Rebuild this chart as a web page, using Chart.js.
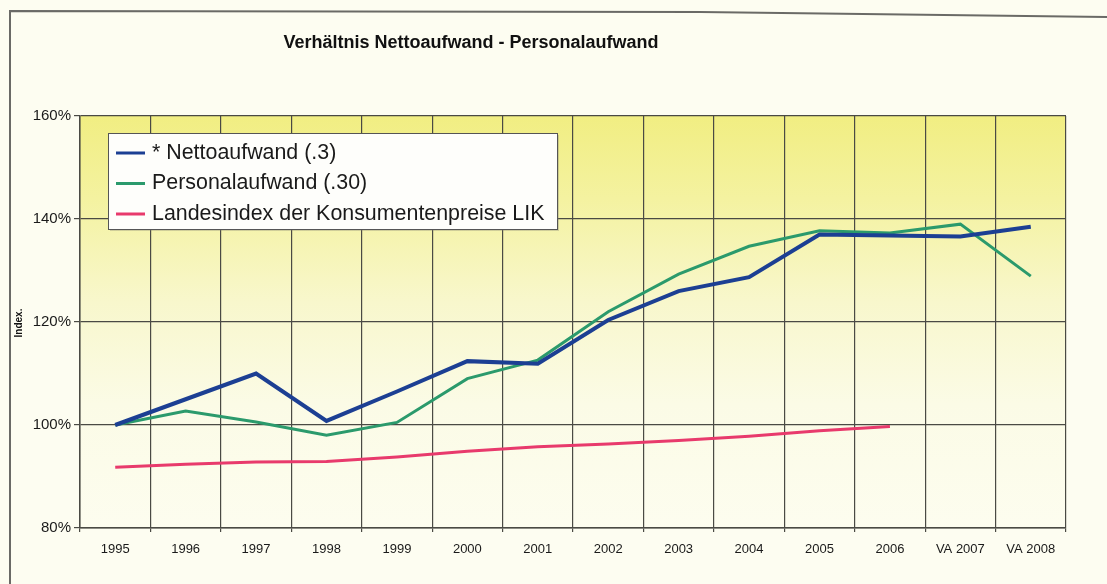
<!DOCTYPE html>
<html>
<head>
<meta charset="utf-8">
<script src="https://cdn.jsdelivr.net/npm/chart.js@4"></script>
<style>
  html,body{margin:0;padding:0;background:#fdfdf1;}
  #wrap{width:1107px;height:584px;position:relative;}
</style>
</head>
<body>
<div id="wrap"><canvas id="c" width="1107" height="584"></canvas></div>
<script>
const categories = ['1995','1996','1997','1998','1999','2000','2001','2002','2003','2004','2005','2006','VA 2007','VA 2008'];
const nettoaufwand = [100, 105, 110, 100.8, 106.5, 112.4, 111.9, 120.4, 126, 128.7, 137, 136.8, 136.6, 138.5];
const personalaufwand = [100, 102.7, 100.6, 98, 100.5, 109, 112.6, 122, 129.3, 134.7, 137.7, 137.3, 139, 128.9];
const lik = [91.8, 92.4, 92.8, 92.9, 93.8, 94.9, 95.8, 96.3, 97, 97.8, 98.9, 99.7, null, null];
const yTicks = [80, 100, 120, 140, 160];
const seriesLabels = ['* Nettoaufwand (.3)', 'Personalaufwand (.30)', 'Landesindex der Konsumentenpreise LIK'];
const seriesColors = ['#1c3f93', '#2b9a6c', '#e83a6c'];
const chartTitle = 'Verhältnis Nettoaufwand - Personalaufwand';
const yAxisTitle = 'Index.';

const FONT = '"Liberation Sans", Arial, sans-serif';

const decor = {
  id: 'decor',
  beforeDraw(chart) {
    const ctx = chart.ctx, a = chart.chartArea;
    ctx.save();
    ctx.fillStyle = '#fdfdf1';
    ctx.fillRect(0, 0, chart.width, chart.height);
    // frame
    ctx.strokeStyle = '#6a6a66';
    ctx.lineWidth = 2;
    ctx.beginPath();
    ctx.moveTo(10, 584);
    ctx.lineTo(10, 11);
    ctx.lineTo(700, 12);
    ctx.lineTo(1107, 17);
    ctx.stroke();
    // plot background gradient
    const g = ctx.createLinearGradient(0, a.top, 0, a.bottom);
    g.addColorStop(0, '#f1ee82');
    g.addColorStop(0.2, '#f4f2a0');
    g.addColorStop(0.45, '#f8f7cc');
    g.addColorStop(0.7, '#fbfbe6');
    g.addColorStop(1, '#fdfdef');
    ctx.fillStyle = g;
    ctx.fillRect(a.left, a.top, a.right - a.left, a.bottom - a.top);
    ctx.restore();
  },
  afterDraw(chart) {
    const ctx = chart.ctx;
    ctx.save();
    // title
    ctx.fillStyle = '#111';
    ctx.font = 'bold 18px ' + FONT;
    ctx.textAlign = 'center';
    ctx.textBaseline = 'middle';
    ctx.fillText(chartTitle, 471, 43);
    // y axis title
    ctx.save();
    ctx.translate(19, 323);
    ctx.rotate(-Math.PI / 2);
    ctx.font = 'bold 10px ' + FONT;
    ctx.fillText(yAxisTitle, 0, 0);
    ctx.restore();
    // legend
    const lx = 108, ly = 133, lw = 449, lh = 96;
    ctx.fillStyle = 'rgba(120,120,110,0.3)';
    ctx.fillRect(lx + 2, ly + 2, lw, lh);
    ctx.fillStyle = '#fefefb';
    ctx.fillRect(lx, ly, lw, lh);
    ctx.strokeStyle = '#555';
    ctx.lineWidth = 1;
    ctx.strokeRect(lx + 0.5, ly + 0.5, lw, lh);
    ctx.font = '21.4px ' + FONT;
    ctx.textAlign = 'left';
    ctx.textBaseline = 'middle';
    chart.data.datasets.forEach((ds, i) => {
      const y = ly + 20 + i * 30.5;
      ctx.strokeStyle = ds.borderColor;
      ctx.lineWidth = 3;
      ctx.beginPath();
      ctx.moveTo(116, y);
      ctx.lineTo(145, y);
      ctx.stroke();
      ctx.fillStyle = '#1a1a1a';
      ctx.fillText(ds.label, 152, y);
    });
    ctx.restore();
  }
};

new Chart(document.getElementById('c'), {
  type: 'line',
  data: {
    labels: categories,
    datasets: [
      { label: seriesLabels[0], data: nettoaufwand, borderColor: seriesColors[0], borderWidth: 4 },
      { label: seriesLabels[1], data: personalaufwand, borderColor: seriesColors[1], borderWidth: 3 },
      { label: seriesLabels[2], data: lik, borderColor: seriesColors[2], borderWidth: 3 }
    ].map(d => Object.assign(d, { pointRadius: 0, tension: 0, fill: false, spanGaps: false }))
  },
  options: {
    responsive: false,
    animation: false,
    devicePixelRatio: 1,
    layout: { padding: { left: 0, top: 116, right: 41, bottom: 16 } },
    plugins: { legend: { display: false }, title: { display: false }, tooltip: { enabled: false } },
    scales: {
      x: {
        offset: true,
        grid: { offset: true, color: '#4a4a44', lineWidth: 1.2, tickLength: 4, drawTicks: true },
        border: { color: '#4a4a44', width: 1.5 },
        ticks: { color: '#1a1a1a', font: { family: FONT, size: 13 }, padding: 10, maxRotation: 0, autoSkip: false },
        afterFit(s) { s.height = 40; }
      },
      y: {
        min: 80, max: 160,
        afterBuildTicks(s) { s.ticks = yTicks.map(v => ({ value: v })); },
        grid: { color: '#4a4a44', lineWidth: 1.2, tickLength: 6 },
        border: { color: '#4a4a44', width: 1.5 },
        ticks: { color: '#1a1a1a', font: { family: FONT, size: 15 }, padding: 3, callback: v => v + '%' },
        afterFit(s) { s.width = 80; }
      }
    }
  },
  plugins: [decor]
});
</script>
</body>
</html>
